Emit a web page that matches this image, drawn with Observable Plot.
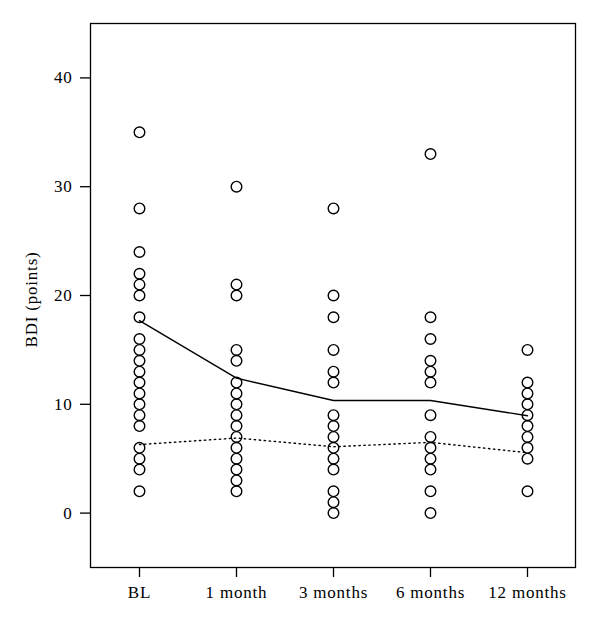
<!DOCTYPE html>
<html>
<head>
<meta charset="utf-8">
<script src="https://cdn.jsdelivr.net/npm/d3@7"></script>
<script src="https://cdn.jsdelivr.net/npm/@observablehq/plot@0.6"></script>
<style>
  html, body { margin: 0; padding: 0; background: white; }
  svg text { letter-spacing: 0.8px; }
</style>
</head>
<body>
<div id="chart"></div>
<script>
const categories = ["BL", "1 month", "3 months", "6 months", "12 months"];
const yTicks = [0, 10, 20, 30, 40];

const valuesBL = [35, 28, 24, 22, 21, 20, 18, 16, 15, 14, 13, 12, 11, 10, 9, 8, 6, 5, 4, 2];
const values1m = [30, 21, 20, 15, 14, 12, 11, 10, 9, 8, 7, 6, 5, 4, 3, 2];
const values3m = [28, 20, 18, 15, 13, 12, 9, 8, 7, 6, 5, 4, 2, 1, 0];
const values6m = [33, 18, 16, 14, 13, 12, 9, 7, 6, 5, 4, 2, 0];
const values12m = [15, 12, 11, 10, 9, 8, 7, 6, 5, 2];

const solidLine = [17.7, 12.4, 10.35, 10.35, 8.95];
const dottedLine = [6.3, 6.9, 6.1, 6.5, 5.55];

const seriesByCategory = [valuesBL, values1m, values3m, values6m, values12m];
const points = categories.flatMap((c, i) => seriesByCategory[i].map(v => ({cat: c, value: v})));
const solid = categories.map((c, i) => ({cat: c, value: solidLine[i]}));
const dotted = categories.map((c, i) => ({cat: c, value: dottedLine[i]}));

const chart = Plot.plot({
  width: 600,
  height: 623,
  marginLeft: 90,
  marginRight: 25,
  marginTop: 23,
  marginBottom: 56,
  style: {fontFamily: "'Liberation Serif', 'DejaVu Serif', serif", fontSize: "17px", background: "white", color: "black"},
  x: {type: "point", domain: categories, padding: 0.5, label: null},
  y: {domain: [-5, 45], label: null},
  marks: [
    Plot.frame({stroke: "black", strokeWidth: 1.3}),
    Plot.axisY({ticks: yTicks, tickSize: 10, tickPadding: 8, label: null, strokeWidth: 1.3}),
    Plot.axisX({tickSize: 10, tickPadding: 8, label: null, strokeWidth: 1.3}),
    Plot.line(solid, {x: "cat", y: "value", stroke: "black", strokeWidth: 1.4}),
    Plot.line(dotted, {x: "cat", y: "value", stroke: "black", strokeWidth: 1.4, strokeDasharray: "1.4,3.6"}),
    Plot.dot(points, {x: "cat", y: "value", r: 5.3, stroke: "black", fill: "none", strokeWidth: 1.4}),
    Plot.text(["BDI (points)"], {text: d => d, frameAnchor: "left", dx: -59, dy: 4, rotate: -90, fontSize: 17, lineAnchor: "middle", textAnchor: "middle"})
  ]
});
document.getElementById("chart").appendChild(chart);
</script>
</body>
</html>
